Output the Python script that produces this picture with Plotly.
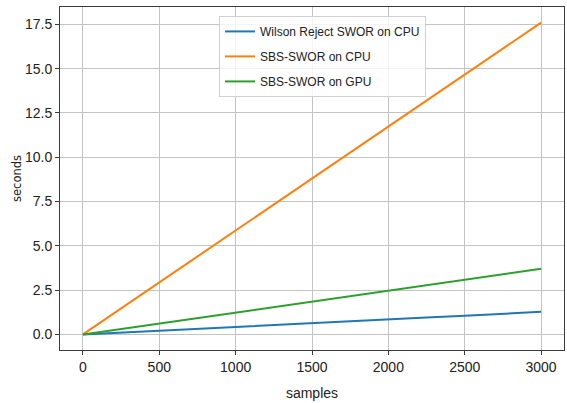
import plotly.graph_objects as go

samples = [0, 250, 500, 750, 1000, 1250, 1500, 1750, 2000, 2250, 2500, 2750, 3000]
wilson_cpu = [0.0, 0.11, 0.22, 0.32, 0.42, 0.52, 0.63, 0.74, 0.85, 0.95, 1.05, 1.16, 1.28]
sbs_cpu = [0.0, 1.47, 2.93, 4.40, 5.87, 7.33, 8.80, 10.27, 11.73, 13.20, 14.67, 16.13, 17.60]
sbs_gpu = [0.0, 0.31, 0.62, 0.93, 1.24, 1.55, 1.86, 2.17, 2.48, 2.79, 3.10, 3.41, 3.70]

series = [
    ("Wilson Reject SWOR on CPU", wilson_cpu, "#1f77b4"),
    ("SBS-SWOR on CPU", sbs_cpu, "#ff7f0e"),
    ("SBS-SWOR on GPU", sbs_gpu, "#2ca02c"),
]

FONT = "Liberation Sans, Arial, sans-serif"

fig = go.Figure()
for i, (name, vals, color) in enumerate(series):
    fig.add_trace(go.Scatter(x=samples, y=vals, mode="lines", name=name,
                             legendgroup=f"g{i}",
                             line=dict(color=color, width=2)))

axis_common = dict(
    showline=True, linecolor="#3a3a3a", linewidth=1, mirror=True,
    showgrid=True, gridcolor="#c4c4c4", gridwidth=1,
    ticks="outside", ticklen=4, tickcolor="#3a3a3a",
    zeroline=False, automargin=False,
    tickfont=dict(family=FONT, size=14, color="#222222"),
)

fig.update_layout(
    width=567, height=403,
    margin=dict(l=60, r=3, t=7, b=53),
    paper_bgcolor="white", plot_bgcolor="white",
    font=dict(family=FONT, size=14, color="#222222"),
    xaxis=dict(range=[-150, 3150], tickmode="linear", tick0=0, dtick=500,
               title=dict(text="samples", font=dict(family=FONT, size=14), standoff=14),
               **axis_common),
    yaxis=dict(range=[-0.88, 18.48], tickmode="linear", tick0=0, dtick=2.5,
               tickformat=".1f",
               title=dict(text="seconds", font=dict(family="DejaVu Sans", size=11.5), standoff=0),
               **axis_common),
    legend=dict(x=0.3155, y=0.974, xanchor="left", yanchor="top",
                bgcolor="rgba(255,255,255,0.8)", bordercolor="#d0d0d0", borderwidth=1,
                font=dict(family=FONT, size=12, color="#222222"),
                tracegroupgap=6, itemwidth=30),
    showlegend=True,
)

fig.write_html("out.html", config={"displayModeBar": False},
               post_script="document.body.style.margin='0';document.body.style.padding='0';")
